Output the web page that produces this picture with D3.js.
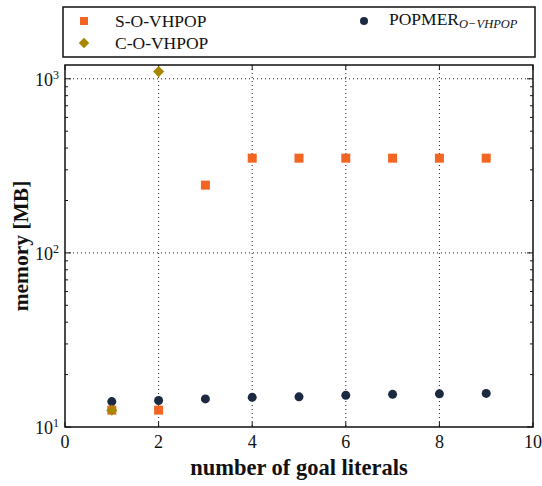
<!DOCTYPE html>
<html><head><meta charset="utf-8">
<script src="https://cdn.jsdelivr.net/npm/d3@7"></script>
<style>body{margin:0;background:#fff}svg{display:block}text{font-family:"Liberation Serif","DejaVu Serif",serif;fill:#111}</style>
</head><body>
<svg id="c" width="542" height="486"></svg>
<script>
const goalLiterals = [1,2,3,4,5,6,7,8,9];
const sVals = [12.5,12.5,245,350,350,350,350,350,350];
const sX = [1,2,3,4,5,6,7,8,9];
const cX = [1,2];
const cVals = [12.5,1100];
const pX = [1,2,3,4,5,6,7,8,9];
const pVals = [14.0,14.2,14.5,14.8,14.9,15.2,15.4,15.5,15.6];
const xTicks = [0,2,4,6,8,10];
const yTicks = [10,100,1000];
const yTickExp = ["1","2","3"];

const svg = d3.select("#c");
const L=65,R=533,T=65,B=427;
const x = d3.scaleLinear().domain([0,10]).range([L,R]);
const y = d3.scaleLog().domain([10,1200]).range([B,T]);

const colS="#f26522", colC="#a88600", colP="#1b2a41";

// grid
const g = svg.append("g");
xTicks.slice(1,-1).forEach(v=>{
  g.append("line").attr("x1",x(v)).attr("x2",x(v)).attr("y1",T).attr("y2",B)
   .attr("stroke","#222").attr("stroke-width",1).attr("stroke-dasharray","1,3");
});
yTicks.slice(1).forEach(v=>{
  g.append("line").attr("x1",L).attr("x2",R).attr("y1",y(v)).attr("y2",y(v))
   .attr("stroke","#222").attr("stroke-width",1).attr("stroke-dasharray","1,3");
});

// ticks
const tk = svg.append("g").attr("stroke","#111").attr("stroke-width",1);
xTicks.forEach(v=>{
  tk.append("line").attr("x1",x(v)).attr("x2",x(v)).attr("y1",B).attr("y2",B-5);
  tk.append("line").attr("x1",x(v)).attr("x2",x(v)).attr("y1",T).attr("y2",T+5);
});
const minor=[];
[10,100,1000].forEach(d=>{for(let k=2;k<=9;k++){const v=d*k; if(v<1200) minor.push(v);}});
minor.forEach(v=>{
  tk.append("line").attr("x1",L).attr("x2",L+3).attr("y1",y(v)).attr("y2",y(v));
  tk.append("line").attr("x1",R).attr("x2",R-3).attr("y1",y(v)).attr("y2",y(v));
});
yTicks.forEach(v=>{
  tk.append("line").attr("x1",L).attr("x2",L+6).attr("y1",y(v)).attr("y2",y(v));
  tk.append("line").attr("x1",R).attr("x2",R-6).attr("y1",y(v)).attr("y2",y(v));
});

// frame
svg.append("rect").attr("x",L).attr("y",T).attr("width",R-L).attr("height",B-T)
  .attr("fill","none").attr("stroke","#111").attr("stroke-width",1.5);

// tick labels
xTicks.forEach(v=>{
  svg.append("text").attr("x",x(v)).attr("y",B+21).attr("text-anchor","middle")
    .attr("font-size",18).text(v);
});
yTicks.forEach((v,i)=>{
  const t = svg.append("text").attr("x",L-6).attr("y",y(v)+7).attr("text-anchor","end").attr("font-size",18);
  t.append("tspan").text("10");
  t.append("tspan").attr("font-size",12).attr("dy",-7).text(yTickExp[i]);
});

// axis labels
svg.append("text").attr("x",(L+R)/2).attr("y",475).attr("text-anchor","middle")
  .attr("font-size",22.5).attr("font-weight","bold").text("number of goal literals");
svg.append("text").attr("transform",`translate(28,${(T+B)/2}) rotate(-90)`).attr("text-anchor","middle")
  .attr("font-size",21.5).attr("font-weight","bold").text("memory [MB]");

// data
const sqs=9;
svg.append("g").selectAll("rect").data(sX.map((d,i)=>[d,sVals[i]])).join("rect")
  .attr("x",d=>x(d[0])-sqs/2).attr("y",d=>y(d[1])-sqs/2).attr("width",sqs).attr("height",sqs)
  .attr("fill",colS);
svg.append("g").selectAll("circle").data(pX.map((d,i)=>[d,pVals[i]])).join("circle")
  .attr("cx",d=>x(d[0])).attr("cy",d=>y(d[1])).attr("r",4.5).attr("fill",colP);
const dia = d3.symbol().type(d3.symbolDiamond2).size(80);
svg.append("g").selectAll("path").data(cX.map((d,i)=>[d,cVals[i]])).join("path")
  .attr("d",dia).attr("transform",d=>`translate(${x(d[0])},${y(d[1])})`).attr("fill",colC);

// legend
svg.append("rect").attr("x",63).attr("y",7).attr("width",472).attr("height",50)
  .attr("fill","#fff").attr("stroke","#111").attr("stroke-width",1.5);
svg.append("rect").attr("x",84-4).attr("y",21-4).attr("width",8).attr("height",8).attr("fill",colS);
svg.append("text").attr("x",115).attr("y",27).attr("font-size",17.5).text("S-O-VHPOP");
svg.append("path").attr("d",d3.symbol().type(d3.symbolDiamond2).size(70)).attr("transform","translate(84,43)").attr("fill",colC);
svg.append("text").attr("x",115).attr("y",49).attr("font-size",17.5).text("C-O-VHPOP");
svg.append("circle").attr("cx",364).attr("cy",21).attr("r",4).attr("fill",colP);
const pt = svg.append("text").attr("x",389).attr("y",25).attr("font-size",17.5);
pt.append("tspan").text("POPMER");
pt.append("tspan").attr("font-size",12.5).attr("font-style","italic").attr("dy",3).text("O−VHPOP");
</script>
</body></html>
